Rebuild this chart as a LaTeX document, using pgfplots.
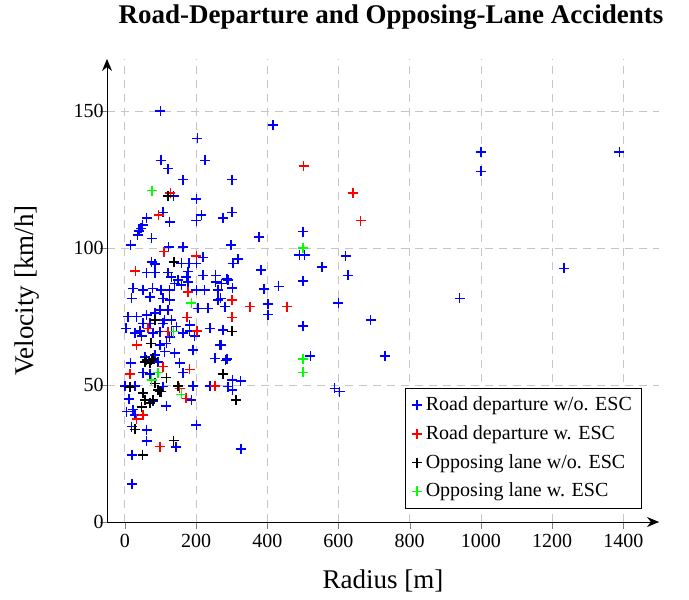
\documentclass[border=0pt]{standalone}
\usepackage{fontspec}
\setmainfont{Liberation Serif}
\usepackage{pgfplots}
\pgfplotsset{compat=1.18}
\usetikzlibrary{arrows.meta}
\begin{document}
\begin{tikzpicture}
\begin{axis}[
  scale only axis, width=276pt, height=231.5pt,
  xmin=-50, xmax=1500, ymin=0, ymax=169,
  axis lines=left,
  axis line style={-{Stealth[length=6pt,width=5pt]}},
  xtick={0,200,...,1400}, ytick={0,50,100,150},
  tick align=outside, major tick length=3.5pt,
  grid=major,
  major grid style={gray!45, dash pattern=on 4pt off 3pt},
  /pgf/number format/1000 sep={},
  /pgf/number format/assume math mode=true,
  tick label style={font=\rmfamily\fontsize{10}{12}\selectfont},
  yticklabel style={inner sep=1pt, xshift=3pt},
  xticklabel style={inner sep=1.5pt, yshift=-1pt},
  xlabel={Radius [m]}, ylabel={Velocity [km/h]},
  xlabel style={at={(axis description cs:0.5,0)}, anchor=base, inner sep=0pt, yshift=-33pt},
  ylabel style={at={(axis description cs:-0.121,0.5)}, anchor=south, inner sep=0pt},
  label style={font=\fontsize{13.5}{16}\selectfont},
  title={\textbf{Road-Departure and Opposing-Lane Accidents}},
  title style={at={(axis description cs:0.5,1)}, anchor=base, inner sep=0pt,
    font=\fontsize{13.5}{16}\selectfont, xshift=4pt, yshift=11.5pt},
  legend style={at={(axis cs:1453,5)}, anchor=south east, draw=black,
    font=\fontsize{10}{12}\selectfont, row sep=2pt},
  legend cell align=left,
  mark size=2.5pt,
]
\addplot[only marks, mark=+, color=blue, thick] coordinates {
(100,150) (204,140) (416,145) (101,132) (121,129) (226,132) (163,125) (301,125)
(201,118) (137,119) (107,113) (61,111) (215,112) (301,113) (276,111) (126,109.6)
(201,110) (50,108.4) (45,107.2) (40,106.2) (36,104.7) (75,103.5) (16,101) (123,100.3)
(164,100.3) (377,104) (500,106) (299,101) (490,97.4) (505,97.4) (318,96) (304,94.4)
(620,97) (554,93) (383,92) (627,90) (287,88.7) (271,87) (302,85.5) (432,86) (391,85)
(500,88) (269,81.6) (402,79.6) (402,75.7) (600,80) (500,71.5) (1001,135) (1001,128)
(1389,135) (1233,92.6) (940,81.6) (690,73.7) (730,60.6) (521,60.7) (589,48.8) (603,47.6)
(327,26.6) (302,51.8) (325,51.5) (302,48.2) (287,59.5) (271,64.6) (220,96.6)
(75,95) (84,94.2) (61,91) (84,91) (122,91) (159,94.4) (180,94.4) (201,94.4) (178,91.4)
(131,89.5) (150,88.3) (173,89.5) (255,90) (255,87.7) (290,88.3) (220,90) (140,87)
(159,86.5) (178,87.7) (23,85.3) (51,84.7) (78,85.3) (101,84.7) (126,84.7) (201,84.7)
(224,84.7) (262,84.7) (19,81.6) (70,82.2) (107,81.6) (126,81) (206,78) (234,78) (262,81)
(281,78.6) (9,75) (33,75) (61,75.5) (84,76.2) (98,77.4) (122,77.4) (131,73.7) (112,73.7)
(51,72.5) (70,72.5) (107,72.5) (145,71.3) (182,72) (3,70.7) (28,69) (42,69.8) (79,69)
(98,69.5) (131,69.5) (164,69) (182,69.8) (239,70.7) (276,70) (47,68) (126,67.6) (196,68)
(98,64.6) (117,65.2) (112,62.2) (140,61.6) (192,62.8) (267,64.6) (56,60.3) (84,61)
(93,58.5) (16,58) (154,58) (253,59.7) (283,59) (164,54.5) (51,54.5) (70,54)
(0,49.6) (28,49.6) (107,49.4) (192,49.6) (239,49.6) (290,49.4) (12,45) (79,44)
(117,42.3) (187,44.5) (5,40.3) (23,41) (28,39) (61,33.6) (19,34.8) (201,35.4)
(61,29.5) (143,27.4) (21,24.5) (21,13.8)
};
\addlegendentry{Road departure w/o. ESC}
\addplot[only marks, mark=+, color=red, thick] coordinates {
(95,112) (128,120) (502,130) (641,120) (662,110) (110,98.7) (201,97) (30,91.7)
(178,84) (301,81) (351,78.6) (456,78.6) (301,74.7) (175,74.7) (65,70.7) (122,69.5)
(203,69.8) (33,64.6) (107,56.7) (182,55.7) (14,54) (154,48.8) (253,49.6) (171,45.1)
(33,37.5) (51,39.1) (98,27.5)
};
\addlegendentry{Road departure w. ESC}
\addplot[only marks, mark=+, color=black, thick] coordinates {
(121,119) (138,95) (84,73.7) (301,69.6) (73,65.2) (56,58.5) (75,59.1) (70,57.9)
(61,59.1) (79,59.7) (276,54) (117,52.7) (14,49.2) (84,50.6) (93,48.2) (103,47.6)
(150,49.6) (51,47) (56,44.5) (79,44.5) (47,41.9) (70,43.5) (98,47.6) (313,44.5)
(28,33.8) (137,29.7) (50,24.5)
};
\addlegendentry{Opposing lane w/o. ESC}
\addplot[only marks, mark=+, color=green, thick] coordinates {
(77,121) (500,100) (187,80) (137,69.5) (93,54.5) (75,51.8) (159,46.6) (500,59.5) (500,54.6)
};
\addlegendentry{Opposing lane w. ESC}
\end{axis}
\pgfresetboundingbox
\path[use as bounding box] ([shift={(-53.5pt,-38.5pt)}]current axis.south west)
  rectangle ([shift={(15pt,29.5pt)}]current axis.north east);
\end{tikzpicture}
\end{document}
